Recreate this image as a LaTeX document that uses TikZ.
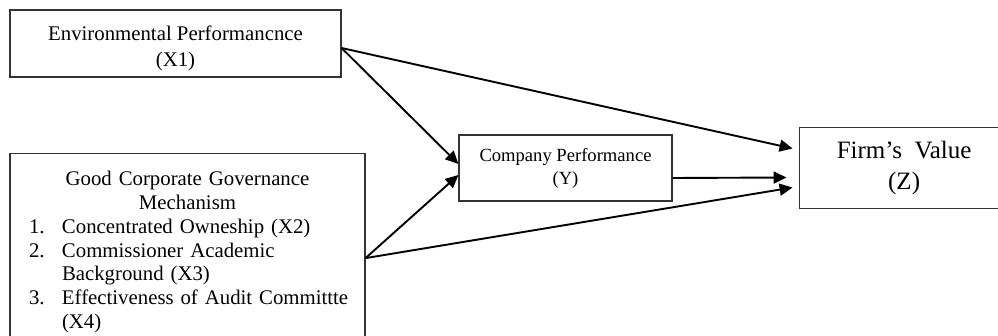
\documentclass[tikz,border=0pt]{standalone}
\usepackage{fontspec}
\setmainfont{Liberation Serif}
\usetikzlibrary{positioning, arrows.meta}

\begin{document}
\begin{tikzpicture}[x=1pt, y=1pt, node distance=1cm,
    box/.style={draw=black!80, line width=1.1pt, align=center, inner sep=0pt},
    link/.style={-{Triangle[length=13pt, width=12pt]}, line width=1.9pt}]
            \useasboundingbox (0,0) rectangle (998,-336);

            \node[box, minimum width=331pt, minimum height=67pt, font=\fontsize{20.8}{26}\selectfont] (envx1) at (175.5,-43.5) {\rule{0pt}{24.5pt}Environmental Performancnce\\(X1)};
            \node[box, below=75pt of envx1.south west, anchor=north west, minimum width=355pt, minimum height=210pt, text width=317pt, inner xsep=19pt, align=left, font=\fontsize{20.8}{23.8}\selectfont] (gcg) {%
                \parindent=0pt
                {\centering Good Corporate Governance\\Mechanism\par}
                \mbox{\makebox[33pt][l]{1.}Concentrated Owneship (X2)}\par
                \mbox{\makebox[33pt][l]{2.}Commissioner Academic}\par
                \mbox{\makebox[33pt][l]{}Background (X3)}\par
                \mbox{\makebox[33pt][l]{3.}Effectiveness of Audit Committte}\par
                \mbox{\makebox[33pt][l]{}(X4)}\par
                \vspace*{-7.2pt}\null};
            \node[box, minimum width=213pt, minimum height=66pt, font=\fontsize{18.6}{23}\selectfont] (cp) at (565.5,-168) {Company Performance\\(Y)};
            \node[box, right=126pt of cp, minimum width=210pt, minimum height=81pt, font=\fontsize{25}{31}\selectfont] (firm) {Firm’s\ \ Value\\(Z)};

            \draw[link] ([yshift=-4.5pt]envx1.east) -- ([xshift=-6pt, yshift=19.5pt]firm.west);
            \draw[link] ([yshift=-4.5pt]envx1.east) -- ([yshift=4pt]cp.west);
            \draw[link] (gcg.east) -- ([yshift=-7pt]cp.west);
            \draw[link] (gcg.east) -- ([xshift=-6pt, yshift=-19.5pt]firm.west);
            \draw[link] ([yshift=-10pt]cp.east) -- ([xshift=-12pt, yshift=-9.5pt]firm.west);
        \end{tikzpicture}
\end{document}
